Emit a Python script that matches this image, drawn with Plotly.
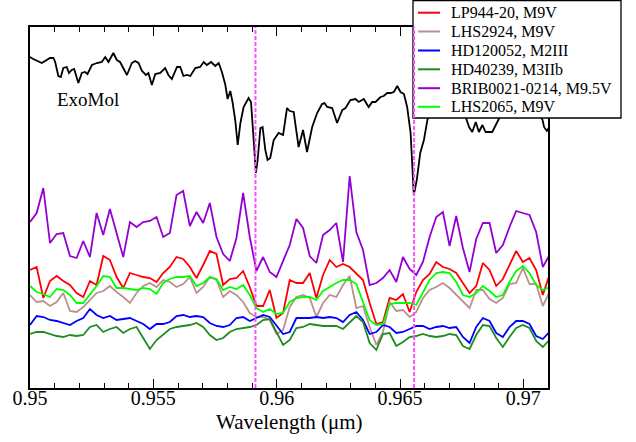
import numpy as np
import plotly.graph_objects as go

# ---------------- data ----------------
# stellar spectra sampled on a regular wavelength grid (micron)
wl_star = np.round(0.95 + 0.00027 * np.arange(79), 5)

lp944 = [1.18,1.21,0.90,1.07,1.12,1.07,1.03,0.95,0.91,1.07,1.03,1.32,1.28,1.11,1.00,1.15,1.13,1.11,1.10,1.06,
         1.15,1.21,1.31,1.29,1.21,1.10,1.23,1.37,1.34,1.03,1.09,1.10,1.17,1.01,0.82,0.82,0.98,0.70,0.75,1.08,
         1.05,1.05,1.15,0.90,1.13,1.28,1.21,1.24,1.21,1.15,1.08,0.85,0.64,0.66,0.90,0.88,0.94,0.76,0.96,
         1.08,1.14,1.26,1.21,1.19,1.15,1.05,0.95,1.02,1.25,1.18,1.02,1.09,1.23,1.37,1.26,1.30,1.18,0.93,1.13]
lhs2924 = [0.93,0.86,0.87,0.82,0.86,0.95,0.77,0.76,0.81,0.88,0.95,0.97,1.02,0.96,0.91,0.85,0.95,1.02,1.05,1.01,
           1.08,1.06,1.01,1.04,1.11,0.95,1.01,1.11,1.08,0.91,0.97,0.93,0.86,0.75,0.71,0.71,0.68,0.54,0.58,0.81,
           0.91,0.93,0.90,0.71,0.85,0.93,0.91,1.03,1.12,0.80,0.82,0.61,0.43,0.56,0.86,0.77,0.78,0.71,0.76,
           0.90,0.98,1.01,1.05,1.00,0.93,0.86,0.80,0.98,0.98,0.89,0.85,0.90,1.04,1.05,1.20,1.04,1.04,0.82,0.96]
hd120052 = [0.63,0.72,0.71,0.68,0.67,0.65,0.63,0.67,0.70,0.79,0.73,0.70,0.72,0.68,0.69,0.70,0.67,0.64,0.59,0.64,
            0.64,0.66,0.72,0.73,0.71,0.72,0.71,0.65,0.62,0.61,0.63,0.70,0.71,0.67,0.70,0.73,0.71,0.62,0.54,0.56,
            0.70,0.70,0.70,0.71,0.70,0.71,0.70,0.66,0.73,0.76,0.68,0.54,0.56,0.63,0.61,0.55,0.56,0.59,0.62,
            0.62,0.59,0.61,0.62,0.60,0.61,0.51,0.45,0.61,0.70,0.67,0.55,0.51,0.61,0.67,0.67,0.64,0.52,0.49,0.56]
hd40239 = [0.54,0.56,0.56,0.54,0.52,0.51,0.53,0.52,0.53,0.61,0.63,0.56,0.59,0.61,0.55,0.59,0.61,0.50,0.39,0.48,
           0.54,0.59,0.61,0.62,0.63,0.65,0.61,0.53,0.48,0.50,0.56,0.59,0.60,0.61,0.63,0.68,0.69,0.56,0.43,0.48,
           0.60,0.61,0.64,0.63,0.62,0.62,0.62,0.59,0.65,0.72,0.66,0.45,0.38,0.54,0.55,0.42,0.46,0.51,0.52,
           0.54,0.52,0.51,0.52,0.54,0.53,0.42,0.39,0.53,0.63,0.62,0.50,0.41,0.51,0.60,0.63,0.60,0.47,0.41,0.48]
brib0021 = [1.66,1.75,2.00,1.45,1.54,1.55,1.32,1.30,1.47,1.31,1.75,1.53,1.79,1.55,1.31,1.66,1.61,1.66,1.67,1.71,
            1.51,1.55,1.93,1.97,1.62,1.76,1.65,1.85,1.51,1.34,1.27,1.50,1.95,1.51,1.17,1.31,1.16,1.11,1.27,1.43,
            1.69,1.60,1.32,1.25,1.53,1.58,1.65,1.26,2.12,1.56,1.38,1.03,1.05,1.10,1.18,1.06,1.31,1.19,1.13,
            1.26,1.51,1.71,1.76,1.42,1.72,1.40,1.16,1.49,1.65,1.65,1.35,1.43,1.61,1.77,1.75,1.73,1.56,1.21,1.33]
lhs2065 = [1.02,0.96,0.94,0.91,0.99,0.98,0.93,0.85,0.85,0.93,1.02,1.12,1.11,1.00,1.00,0.99,0.98,1.00,0.99,0.94,
           1.05,1.09,1.11,1.11,1.12,1.02,1.05,1.11,1.09,0.98,1.01,0.99,1.03,0.93,0.80,0.76,0.79,0.74,0.75,0.86,
           0.90,0.91,0.91,0.88,0.97,1.01,1.05,1.08,1.08,1.04,0.86,0.68,0.63,0.64,0.84,0.85,0.85,0.85,0.83,
           0.96,1.08,1.15,1.16,1.15,1.06,0.93,0.91,0.95,1.02,0.97,0.91,0.93,1.06,1.17,1.22,1.15,1.03,0.98,1.01]

# ExoMol model spectrum
wl_exomol = [0.95000,0.95013,0.95048,0.95061,0.95081,0.95095,0.95102,0.95115,0.95125,0.95135,0.95149,0.95158,
             0.95169,0.95179,0.95196,0.95210,0.95223,0.95233,0.95251,0.95271,0.95291,0.95305,0.95318,0.95338,
             0.95352,0.95365,0.95379,0.95393,0.95413,0.95426,0.95440,0.95454,0.95470,0.95480,0.95494,0.95508,
             0.95528,0.95548,0.95561,0.95575,0.95596,0.95609,0.95622,0.95636,0.95650,0.95670,0.95690,0.95704,
             0.95717,0.95734,0.95751,0.95765,0.95778,0.95792,0.95801,0.95812,0.95821,0.95832,0.95842,0.95853,
             0.95866,0.95886,0.95896,0.95907,0.95916,0.95923,0.95934,0.95943,0.95954,0.95963,0.95974,0.95988,
             0.96008,0.96026,0.96042,0.96053,0.96069,0.96089,0.96107,0.96123,0.96144,0.96164,0.96184,0.96194,
             0.96205,0.96225,0.96245,0.96266,0.96279,0.96299,0.96320,0.96333,0.96353,0.96373,0.96387,0.96401,
             0.96421,0.96434,0.96448,0.96462,0.96475,0.96489,0.96502,0.96516,0.96529,0.96543,0.96556,0.96568,
             0.96582,0.96597,0.96611,0.96644,0.96685,0.96726,0.96754,0.96780,0.96793,0.96807,0.96820,0.96834,
             0.96847,0.96874,0.96888,0.96901,0.96929,0.96969,0.97010,0.97050,0.97078,0.97084,0.97095,0.97103]
flux_exomol = [3.31,3.29,3.25,3.27,3.30,3.30,3.26,3.12,3.11,3.20,3.21,3.15,
               3.18,3.19,3.05,3.15,3.16,3.14,3.23,3.25,3.26,3.31,3.26,3.35,
               3.28,3.26,3.19,3.13,3.25,3.27,3.25,3.17,3.13,3.15,3.03,3.14,
               3.15,3.20,3.13,3.09,3.21,3.21,3.12,3.13,3.12,3.20,3.21,3.26,
               3.23,3.26,3.22,3.25,3.16,3.03,2.89,2.97,2.86,2.68,2.43,2.65,
               2.81,2.90,2.86,2.48,2.15,2.28,2.60,2.61,2.38,2.28,2.30,2.48,
               2.55,2.53,2.80,2.77,2.76,2.41,2.58,2.36,2.61,2.75,2.84,2.85,
               2.81,2.80,2.65,2.78,2.80,2.88,2.89,2.86,2.89,2.81,2.86,2.86,
               2.91,2.92,2.95,2.95,2.96,3.02,2.96,2.94,2.81,2.55,1.93,2.08,
               2.35,2.48,2.68,2.88,2.93,2.90,2.80,2.61,2.56,2.66,2.56,2.63,
               2.56,2.56,2.63,2.70,2.83,2.90,2.88,2.80,2.68,2.61,2.57,2.60]

# marked line positions (micron)
marker_wl = [0.95914, 0.96557]

series_names = ["LP944-20, M9V", "LHS2924, M9V", "HD120052, M2III",
                "HD40239, M3IIb", "BRIB0021-0214, M9.5V", "LHS2065, M9V"]
series_vals = [lp944, lhs2924, hd120052, hd40239, brib0021, lhs2065]
series_colors = ["#ff0000", "#bc8f8f", "#0000ff", "#1f8c1f", "#9400d3", "#00ff00"]

x_ticks = [0.95, 0.955, 0.96, 0.965, 0.97]
x_ticktext = ["0.95", "0.955", "0.96", "0.965", "0.97"]

# ---------------- figure ----------------
FONT = "Liberation Serif"
W, H = 636, 442
L, T, R, B = 30, 27, 88, 54          # plot area x 30..548, y 27..388
pw, ph = W - L - R, H - T - B


def pxx(p):
    """window pixel x -> paper coordinate"""
    return (p - L) / pw


def pxy(p):
    """window pixel y -> paper coordinate"""
    return (H - B - p) / ph


fig = go.Figure()
fig.add_trace(go.Scatter(x=wl_exomol, y=flux_exomol, mode="lines",
                         line=dict(color="black", width=1.8), showlegend=False))
order = [4, 0, 1, 2, 3, 5]
for k in order:
    fig.add_trace(go.Scatter(x=wl_star, y=series_vals[k], mode="lines", name=series_names[k],
                             line=dict(color=series_colors[k], width=1.8), showlegend=False))

shapes = []
annotations = []

# legend box (drawn manually to match the compact spacing)
shapes.append(dict(type="rect", xref="paper", yref="paper",
                   x0=pxx(413), x1=pxx(621), y0=pxy(118), y1=pxy(0.7),
                   fillcolor="white", line=dict(color="black", width=1.3), layer="above"))
entry_y = [12.7, 31.5, 50.5, 69.3, 88.2, 106.8]
for name, col, yy in zip(series_names, series_colors, entry_y):
    shapes.append(dict(type="line", xref="paper", yref="paper",
                       x0=pxx(418), x1=pxx(440), y0=pxy(yy), y1=pxy(yy),
                       line=dict(color=col, width=2), layer="above"))
    annotations.append(dict(text=name, xref="paper", yref="paper", x=pxx(449), y=pxy(yy),
                            xanchor="left", yanchor="middle", showarrow=False,
                            font=dict(family=FONT, size=16, color="black")))

for xv in marker_wl:
    shapes.append(dict(type="line", xref="x", yref="paper", x0=xv, x1=xv, y0=0, y1=1,
                       line=dict(color="#ff50ff", width=2, dash="4px,2px"), layer="above"))

annotations.append(dict(text="ExoMol", xref="x", yref="y", x=0.95236, y=2.89,
                        showarrow=False, xanchor="center", yanchor="middle",
                        font=dict(family=FONT, size=19, color="black")))
# x-axis title
annotations.append(dict(text="Wavelength (μm)", xref="paper", yref="paper", x=0.5, y=pxy(422),
                        showarrow=False, xanchor="center", yanchor="middle",
                        font=dict(family=FONT, size=21, color="black")))

fig.update_layout(
    width=W, height=H,
    margin=dict(l=L, r=R, t=T, b=B, pad=0),
    paper_bgcolor="white", plot_bgcolor="white",
    font=dict(family=FONT, color="black"),
    shapes=shapes, annotations=annotations,
    showlegend=False,
)
fig.update_xaxes(
    range=[0.95, 0.971], tickmode="array", tickvals=x_ticks, ticktext=x_ticktext,
    ticks="inside", ticklen=9, tickwidth=1.3, tickcolor="black",
    minor=dict(tickmode="linear", tick0=0.95, dtick=0.001, ticks="inside", ticklen=5,
               tickwidth=1, tickcolor="black", showgrid=False),
    showline=True, linecolor="black", linewidth=1.5, mirror="ticks",
    showgrid=False, zeroline=False,
    tickfont=dict(family=FONT, size=20, color="black"),
    ticklabelstandoff=-9,
    automargin=False,
)
fig.update_yaxes(
    range=[0, 3.61], showticklabels=False, ticks="",
    showline=True, linecolor="black", linewidth=1.5, mirror=True,
    showgrid=False, zeroline=False, automargin=False,
)

# remove the default page margin so the figure fills the window exactly
fig.write_html("out.html", config={"displayModeBar": False},
               post_script="document.body.style.margin='0';document.body.style.padding='0';")
